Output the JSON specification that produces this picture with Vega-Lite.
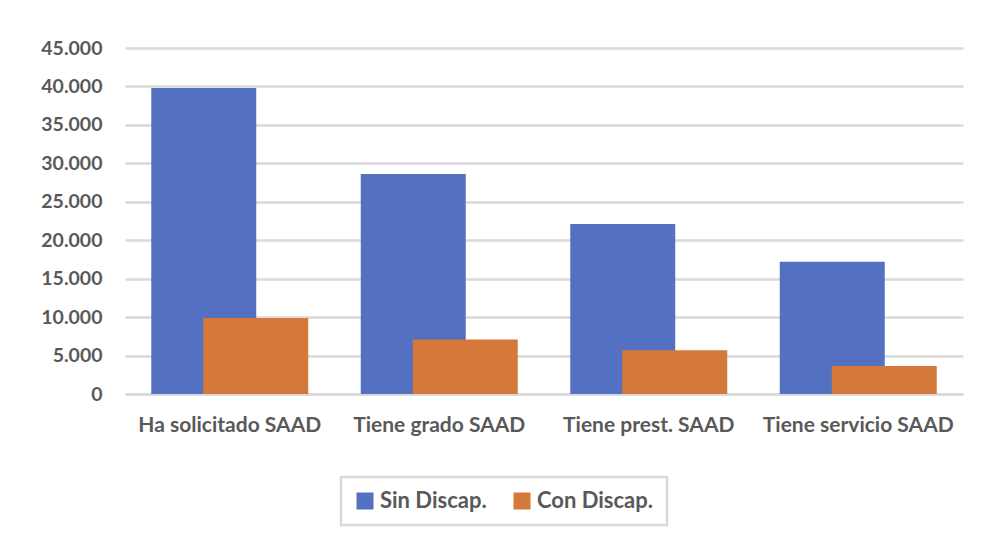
{
  "$schema": "https://vega.github.io/schema/vega-lite/v6.json",
  "autosize": "none",
  "width": 838,
  "height": 346,
  "padding": {"left": 125, "top": 48, "right": 19, "bottom": 141},
  "background": "#ffffff",
  "config": {
    "view": {"stroke": null},
    "locale": {"number": {"decimal": ",", "thousands": ".", "grouping": [3], "currency": ["", " €"]}},
    "font": "Lato",
    "legend": {"strokeColor": "#d9d9d9", "strokeWidth": 2.5}
  },
  "data": {
    "values": [
      {"categoria": "Ha solicitado SAAD", "serie": "Sin Discap.", "valor": 39800},
      {"categoria": "Ha solicitado SAAD", "serie": "Con Discap.", "valor": 9900},
      {"categoria": "Tiene grado SAAD", "serie": "Sin Discap.", "valor": 28600},
      {"categoria": "Tiene grado SAAD", "serie": "Con Discap.", "valor": 7100},
      {"categoria": "Tiene prest. SAAD", "serie": "Sin Discap.", "valor": 22100},
      {"categoria": "Tiene prest. SAAD", "serie": "Con Discap.", "valor": 5700},
      {"categoria": "Tiene servicio SAAD", "serie": "Sin Discap.", "valor": 17200},
      {"categoria": "Tiene servicio SAAD", "serie": "Con Discap.", "valor": 3650}
    ]
  },
  "encoding": {
    "x": {
      "field": "categoria",
      "type": "nominal",
      "sort": ["Ha solicitado SAAD", "Tiene grado SAAD", "Tiene prest. SAAD", "Tiene servicio SAAD"],
      "scale": {"paddingInner": 0, "paddingOuter": 0},
      "axis": {
        "title": null,
        "labelAngle": 0,
        "labelFont": "Lato",
        "labelFontWeight": "bold",
        "labelFontSize": 21,
        "labelColor": "#595959",
        "labelPadding": 20,
        "labelLimit": 300,
        "ticks": false,
        "domainColor": "#d9d9d9",
        "domainWidth": 2.5
      }
    },
    "y": {
      "field": "valor",
      "type": "quantitative",
      "scale": {"domain": [0, 45000]},
      "axis": {
        "title": null,
        "values": [0, 5000, 10000, 15000, 20000, 25000, 30000, 35000, 40000, 45000],
        "format": ",d",
        "labelFont": "Lato",
        "labelFontWeight": "bold",
        "labelFontSize": 19.5,
        "labelColor": "#595959",
        "labelPadding": 23,
        "ticks": false,
        "domain": false,
        "gridColor": "#d9d9d9",
        "gridWidth": 2.5
      }
    },
    "color": {
      "field": "serie",
      "type": "nominal",
      "scale": {"domain": ["Sin Discap.", "Con Discap."], "range": ["#5470C0", "#D4793A"]},
      "legend": {
        "title": null,
        "orient": "none",
        "legendX": 216,
        "legendY": 429,
        "direction": "horizontal",
        "symbolType": "square",
        "symbolSize": 289,
        "symbolStrokeWidth": 0,
        "labelFont": "Lato",
        "labelFontWeight": "bold",
        "labelFontSize": 22,
        "labelColor": "#595959",
        "labelOffset": 4,
        "labelLimit": 300,
        "columnPadding": 24,
        "padding": 13
      }
    }
  },
  "layer": [
    {
      "transform": [{"filter": "datum.serie === 'Sin Discap.'"}],
      "mark": {"type": "bar", "width": 105, "xOffset": -26}
    },
    {
      "transform": [{"filter": "datum.serie === 'Con Discap.'"}],
      "mark": {"type": "bar", "width": 105, "xOffset": 26}
    }
  ]
}
